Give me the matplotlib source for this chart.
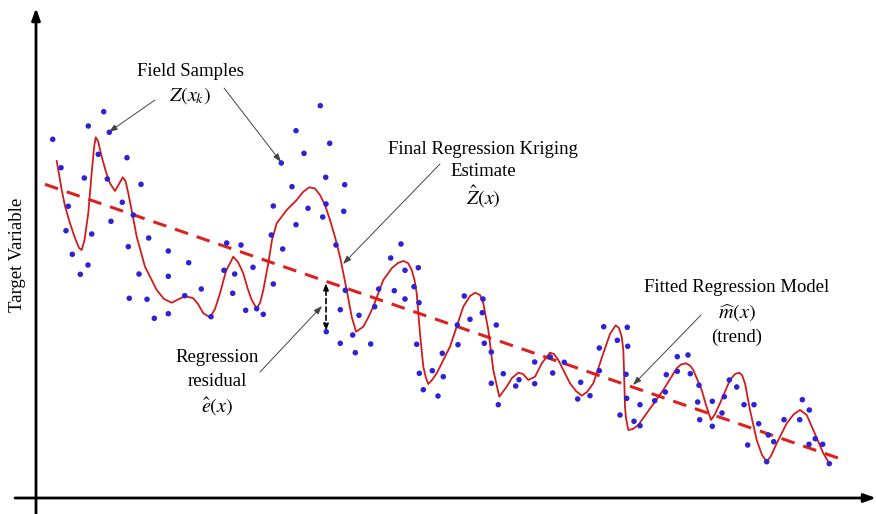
import numpy as np
import matplotlib
matplotlib.use("Agg")
import matplotlib.pyplot as plt

# picture-space coordinates (x to the right, y downwards)
sample_x = [52.7, 103.7, 88.3, 109.3, 61, 98.3, 127, 84.3, 107.3, 141, 68.3, 122.3, 133.3,
            111, 66, 91.7, 148.7, 128.3, 168.3, 72.3, 88, 188.7, 80.3, 139, 168.3, 226.7,
            241, 253, 224, 234.7, 201.3, 184.7, 129.3, 147, 232.7, 168.3, 154.3, 211,
            245.7, 256.7,
            320.3, 296, 329.7, 304, 281.3, 325.7, 344.7, 292, 273.3, 308, 326, 343.7,
            322.7, 296, 271.3, 336, 282.7, 401, 390.7, 418.3, 405, 273.3, 345.3, 378.7,
            394.3, 414, 405, 419, 374.7, 263.3, 340.3, 359, 326.3, 352.7, 340.3, 370.7,
            355.3, 416.7, 442.3, 419.3, 432.3, 443.3,
            423.3, 438, 464.3, 483, 470, 482.3, 496.3, 457.3, 458, 484.3, 491.3, 491.3,
            503.3, 498.3, 519, 515.7, 534.7, 534.7, 550.3, 552.7, 564.3, 580.7, 577.7,
            590, 599.3, 599.3, 603.7, 617.3, 627.3, 627.7, 626, 626.7, 620,
            640, 634, 640, 654.7, 666.3, 665.3, 677.3, 688, 677.3, 690.3, 699, 697.7,
            712.3, 699.7, 712.3, 722, 724.3, 729.3, 736.7, 744, 754, 758.7, 747.7, 768.3,
            773.7, 766.7, 784, 799.7, 802.3, 809.3, 809, 815.3, 822.7, 829.3]
sample_y = [139.3, 111.7, 126, 132.3, 167.7, 154.3, 157.7, 178, 179, 184.3, 206.3, 202.3, 215,
            221.3, 230.7, 234, 238, 246.7, 251, 254.3, 265, 262.7, 274.3, 274, 276.3, 243,
            245, 267.3, 270.3, 274, 289, 295.7, 298.3, 299.3, 293.3, 313.7, 318.3, 316.7,
            310.3, 308.7,
            105.7, 130.7, 143.3, 153.3, 163, 177.3, 184.7, 186.7, 206, 208.3, 204, 211.3,
            217, 224.7, 235, 245, 249, 244, 258, 267.7, 270.3, 284, 290.3, 289,
            290.7, 286.7, 299, 302.7, 306.7, 314.3, 309.7, 315.3, 331.7, 335, 343.3, 344,
            352.7, 344.3, 353.3, 373.3, 370.7, 376.7,
            389.7, 396, 296, 299, 319.3, 312.7, 325, 325, 344.7, 343.3, 352, 383.3,
            373.7, 404.7, 379.7, 386, 383.7, 362, 357, 373, 362.3, 382.3, 399,
            395.7, 348, 370.7, 326.7, 340.3, 327.3, 346.3, 374.3, 398.3, 415,
            404.7, 421.3, 425.7, 400.7, 374.7, 392, 356.7, 355, 371.3, 373.7, 385.3, 402,
            401.3, 419.7, 426.3, 413, 396.7, 380, 387, 404.7, 404.7, 423.7, 445, 435,
            441.7, 461.7, 419.7, 419.7, 399.7, 410, 444.3, 438.7, 444.3, 463.7]

# kriging estimate
krig_x = [56.7, 59, 61.7, 65, 70, 75, 79, 81.7, 84.5, 88.3, 91.5, 94, 95.7, 98, 101.7, 106,
          110, 115, 119, 122.7, 125.5, 128.3, 132, 136.7, 145, 156.7, 164, 171.7, 178,
          185, 193.3, 198, 203.3, 210, 215, 220, 226, 233.3, 238, 243.3, 247.5, 251.7,
          256.7, 260, 263.3, 268.3, 272, 276.7, 286.7, 296.7, 303, 309.3, 315, 320,
          325, 330, 335, 340, 346.7, 351.7, 356, 363.3, 368, 373.3, 383.3, 392, 398,
          403.3, 408, 411.7, 414.5, 416.7, 420, 423.3, 426, 428.3, 432, 436.7, 450,
          463.3, 470, 475.3, 480, 483.3, 488.3, 493.3, 499.3, 506.7, 512, 518.3, 523,
          528.3, 535, 542, 550, 554, 558.3, 570, 576, 581.7, 587, 593.3, 603.3, 610,
          615.7, 619, 621.7, 623.3, 624, 625, 626, 628.3, 633, 638.3, 646.7, 663.3,
          676.7, 681, 686, 690, 693.3, 701.7, 706, 711, 715, 720, 730, 735, 739.3, 742,
          745, 750, 756.7, 762, 766.7, 771, 776.7, 786.7, 794, 800, 806.7, 813.3, 823.3,
          829.3]
krig_y = [161, 174, 190, 206, 223.3, 238, 248, 250, 240, 213, 175, 148, 137.3, 141, 156.7,
          172, 183.3, 191, 184, 177.3, 181, 193.3, 212, 236.7, 266.7, 290, 299, 302.7,
          299.5, 296, 298.3, 304, 313.3, 317.3, 309, 293.3, 271, 256.7, 262, 273.3, 288,
          300, 308.3, 303, 290, 263.3, 240, 223.3, 210, 200, 192, 187.3, 188.5, 195,
          205, 220, 237, 256.7, 290, 316.7, 331.7, 326.7, 318, 306.7, 280, 268, 263,
          261, 263, 270, 280, 293.3, 333.3, 366.7, 378, 384, 380, 373.3, 346.7,
          306.7, 296, 292.7, 295, 303.3, 330, 370, 396.7, 386.7, 378, 372.7, 374,
          380, 376.7, 363, 352.7, 354, 360, 383.3, 391, 395.7, 392, 383.3, 353.3, 334,
          325.3, 328, 336.7, 350, 370, 406.7, 418, 430, 429, 425, 413.3, 390,
          368.3, 364.5, 363.3, 365.5, 370, 390, 405, 420, 414, 403.3, 380, 374, 372.7,
          375, 383.3, 410, 440, 455, 461.7, 456, 443.3, 423.3, 414, 410, 415, 430, 453.3,
          463.3]

# fitted regression trend (end points)
trend_x = [45, 846.7]
trend_y = [184.3, 461]

# residual example at one sample
resid_x = 326
resid_top = 283
resid_bot = 331

plt.rcParams['font.family'] = ['Liberation Serif', 'DejaVu Serif']
plt.rcParams['mathtext.fontset'] = 'stix'

fig = plt.figure(figsize=(8.76, 5.14), dpi=100)
ax = fig.add_axes([0, 0, 1, 1])
ax.set_xlim(0, 876)
ax.set_ylim(514, 0)
ax.axis('off')

# axes with arrow heads
ax.annotate('', xy=(36, 8), xytext=(36, 514), annotation_clip=False,
            arrowprops=dict(arrowstyle='-|>,head_length=0.7,head_width=0.25', color='black',
                            lw=2, shrinkA=0, shrinkB=0))
ax.annotate('', xy=(876, 498), xytext=(15, 498), annotation_clip=False,
            arrowprops=dict(arrowstyle='-|>,head_length=0.7,head_width=0.25', color='black',
                            lw=2, shrinkA=0, shrinkB=0))
ax.text(18, 255, 'Target Variable', rotation=90, ha='center', va='center', fontsize=13.5)

ax.plot(trend_x, trend_y, color='#dd2020', lw=2.2, ls=(0, (4.5, 3)), zorder=2)
ax.plot(krig_x, krig_y, color='#d01c1c', lw=1.3, zorder=3)
ax.scatter(sample_x, sample_y, s=16, color='#2f22d4', edgecolors='none', zorder=4)

# residual double arrow
ax.annotate('', xy=(resid_x, resid_top), xytext=(resid_x, resid_bot),
            arrowprops=dict(arrowstyle='<|-|>,head_length=0.4,head_width=0.15', color='black',
                            lw=1.2, ls=(0, (3, 2)), shrinkA=0, shrinkB=0))

fs = 13.5
thin = dict(arrowstyle='-|>,head_length=0.5,head_width=0.18', color='#444444', lw=0.7,
            shrinkA=0, shrinkB=0)

ax.text(190, 72, 'Field Samples', ha='center', va='center', fontsize=fs)
ax.text(190, 96, '$Z(x_k)$', ha='center', va='center', fontsize=fs + 1)
ax.annotate('', xy=(109, 132), xytext=(155, 100), arrowprops=thin)
ax.annotate('', xy=(281, 162), xytext=(224, 88), arrowprops=thin)

ax.text(483, 150, 'Final Regression Kriging', ha='center', va='center', fontsize=fs)
ax.text(483, 172, 'Estimate', ha='center', va='center', fontsize=fs)
ax.text(483, 196, r'$\hat{Z}(x)$', ha='center', va='center', fontsize=fs + 1)
ax.annotate('', xy=(343, 264), xytext=(440, 164), arrowprops=thin)

ax.text(217, 358, 'Regression', ha='center', va='center', fontsize=fs)
ax.text(217, 382, 'residual', ha='center', va='center', fontsize=fs)
ax.text(217, 406, r'$\hat{e}(x)$', ha='center', va='center', fontsize=fs + 1)
ax.annotate('', xy=(322, 306), xytext=(260, 372), arrowprops=thin)

ax.text(737, 288, 'Fitted Regression Model', ha='center', va='center', fontsize=fs)
ax.text(737, 313, r'$\widehat{m}(x)$', ha='center', va='center', fontsize=fs + 1)
ax.text(737, 337, '(trend)', ha='center', va='center', fontsize=fs)
ax.annotate('', xy=(633, 385), xytext=(701, 315), arrowprops=thin)

plt.savefig('out.png', dpi=100)
